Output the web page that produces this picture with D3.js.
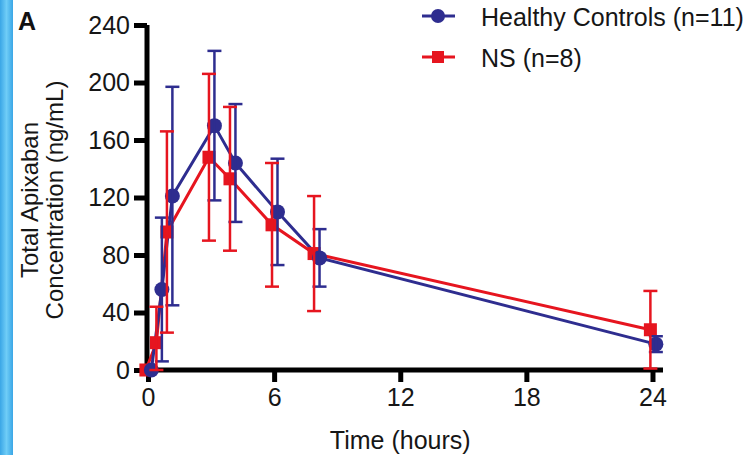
<!DOCTYPE html>
<html>
<head>
<meta charset="utf-8">
<script src="https://cdn.jsdelivr.net/npm/d3@7"></script>
<style>
  body { margin: 0; background: #fff; }
  svg { display: block; font-family: "Liberation Sans", Arial, sans-serif; }
</style>
</head>
<body>
<div id="chart"></div>
<script>
// sampling times (hours)
var times = [0, 0.5, 1, 3, 4, 6, 8, 24];

// Healthy Controls (n=11): mean and SD
var hcMean = [0, 56, 121, 170, 144, 110, 78, 18];
var hcSd   = [0, 50, 76, 52, 41, 37, 20, 5.5];

// NS (n=8): mean and SD
var nsMean = [0, 19, 96, 148, 133, 101, 81, 28];
var nsSd   = [0, 25, 70, 58, 50, 43, 40, 27];

var xTicks = [0, 6, 12, 18, 24];
var yTicks = [0, 40, 80, 120, 160, 200, 240];

var width = 756, height = 455;
var svg = d3.select('#chart').append('svg')
    .attr('width', width)
    .attr('height', height);

// blue stripe at left edge
var grad = svg.append('defs').append('linearGradient')
    .attr('id', 'stripe').attr('x1', 0).attr('x2', 1);
grad.append('stop').attr('offset', 0).attr('stop-color', '#3aa6e6');
grad.append('stop').attr('offset', 0.5).attr('stop-color', '#6fcdf7');
grad.append('stop').attr('offset', 1).attr('stop-color', '#3aa6e6');
svg.append('rect').attr('x', 0).attr('y', 0).attr('width', 13).attr('height', height)
    .attr('fill', 'url(#stripe)');

var x = d3.scaleLinear().domain([0, 24.5]).range([148, 663]);
var y = d3.scaleLinear().domain([0, 240]).range([370, 25]);

var blue = '#2e2d8f', red = '#e6151f';
var fontSize = '25px';

// axes
var xAxis = svg.append('g')
    .attr('transform', 'translate(0,370)')
    .call(d3.axisBottom(x).tickValues(xTicks).tickSize(12).tickPadding(6));
var yAxis = svg.append('g')
    .attr('transform', 'translate(147,0)')
    .call(d3.axisLeft(y).tickValues(yTicks).tickSize(13).tickPadding(4));

[xAxis, yAxis].forEach(function(g) {
    g.select('.domain').attr('stroke', '#000').attr('stroke-width', 5);
    g.selectAll('.tick line').attr('stroke', '#000').attr('stroke-width', 5);
    g.selectAll('.tick text').attr('fill', '#161616')
        .style('font-size', fontSize).style('font-family', '"Liberation Sans", Arial, sans-serif');
});
xAxis.select('.domain').attr('d', 'M145,0H663');
yAxis.select('.domain').attr('d', 'M0,' + (y(240)) + 'V372');

// axis titles
svg.append('text')
    .attr('x', (x(0) + x(24)) / 2).attr('y', 449)
    .attr('text-anchor', 'middle')
    .style('font-size', fontSize).attr('fill', '#161616')
    .text('Time (hours)');

var yl = svg.append('text')
    .attr('transform', 'translate(0,200) rotate(-90)')
    .attr('text-anchor', 'middle')
    .style('font-size', '24px').attr('fill', '#161616');
yl.append('tspan').attr('x', 0).attr('y', 38).text('Total Apixaban');
yl.append('tspan').attr('x', 0).attr('y', 63).text('Concentration (ng/mL)');

svg.append('text').attr('x', 18).attr('y', 30)
    .style('font-size', '25px').style('font-weight', 'bold').attr('fill', '#111')
    .text('A');

// series
var series = [
    { name: 'NS (n=8)', mean: nsMean, sd: nsSd, color: red, shape: 'square', nudge: -0.1 },
    { name: 'Healthy Controls (n=11)', mean: hcMean, sd: hcSd, color: blue, shape: 'circle', nudge: 0.16 }
];

function pts(s) {
    return times.map(function(t, i) {
        return { t: t + s.nudge, m: s.mean[i], sd: s.sd[i] };
    });
}

var line = d3.line().x(function(d) { return x(d.t); }).y(function(d) { return y(d.m); });

// lines
series.forEach(function(s) {
    svg.append('path').datum(pts(s))
        .attr('d', line)
        .attr('fill', 'none')
        .attr('stroke', s.color)
        .attr('stroke-width', 3);
});

// markers
var ns = series[0], hc = series[1];
svg.append('g').selectAll('rect').data(pts(ns)).enter().append('rect')
    .attr('x', function(d) { return x(d.t) - 6.5; })
    .attr('y', function(d) { return y(d.m) - 6.5; })
    .attr('width', 13).attr('height', 13)
    .attr('fill', red);
svg.append('g').selectAll('circle').data(pts(hc)).enter().append('circle')
    .attr('cx', function(d) { return x(d.t); })
    .attr('cy', function(d) { return y(d.m); })
    .attr('r', 7.5)
    .attr('fill', blue);

// error bars
[hc, ns].forEach(function(s) {
    var g = svg.append('g').attr('stroke', s.color).attr('stroke-width', 2.5);
    pts(s).filter(function(d) { return d.sd > 0; }).forEach(function(d) {
        var cx = x(d.t);
        var top = y(d.m + d.sd), bot = y(Math.max(0, d.m - d.sd));
        g.append('line').attr('x1', cx).attr('x2', cx).attr('y1', top).attr('y2', bot);
        g.append('line').attr('x1', cx - 7).attr('x2', cx + 7).attr('y1', top).attr('y2', top);
        g.append('line').attr('x1', cx - 7).attr('x2', cx + 7).attr('y1', bot).attr('y2', bot);
    });
});

// legend
var lg = svg.append('g');
var leg = [
    { s: hc, y: 16 },
    { s: ns, y: 57 }
];
leg.forEach(function(l) {
    lg.append('line').attr('x1', 422).attr('x2', 455).attr('y1', l.y).attr('y2', l.y)
        .attr('stroke', l.s.color).attr('stroke-width', 3);
    if (l.s.shape === 'circle') {
        lg.append('circle').attr('cx', 438).attr('cy', l.y).attr('r', 7).attr('fill', l.s.color);
    } else {
        lg.append('rect').attr('x', 432).attr('y', l.y - 6).attr('width', 12).attr('height', 12)
            .attr('fill', l.s.color);
    }
    lg.append('text').attr('x', 481).attr('y', l.y + 10)
        .style('font-size', fontSize).attr('fill', '#161616')
        .text(l.s.name);
});
</script>
</body>
</html>
